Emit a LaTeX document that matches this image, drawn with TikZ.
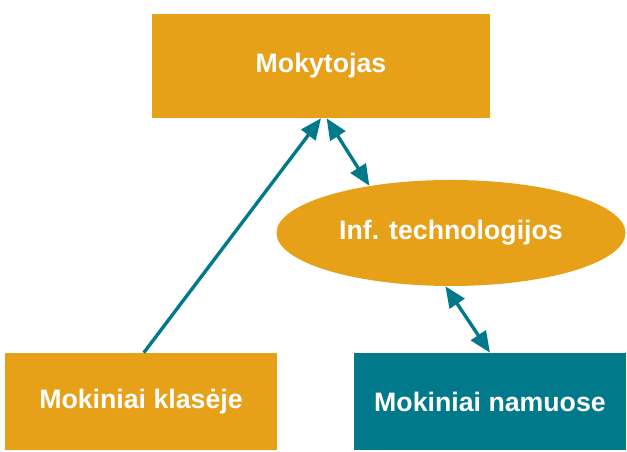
\documentclass[tikz,border=0pt]{standalone}
\usepackage{fontspec}
\setmainfont{Liberation Sans}
\usetikzlibrary{arrows.meta,shapes.geometric,positioning}
\definecolor{boxorange}{HTML}{E6A118}
\definecolor{boxteal}{HTML}{00798A}

\begin{document}
\begin{tikzpicture}[
  block/.style={rectangle, fill=boxorange, text=white, inner sep=0pt, font=\bfseries\fontsize{19}{22}\selectfont},
  oval/.style={ellipse, fill=boxorange, text=white, inner sep=0pt, font=\bfseries\fontsize{19}{22}\selectfont},
  link/.style={draw=boxteal, line width=2.4pt},
  >={Triangle[length=15pt, width=12.5pt]}
]
  \useasboundingbox (0,0) rectangle (15.675,11.3);
  \node[block, minimum width=8.45cm, minimum height=2.6cm] (mok) at (8.025, 9.65) {Mokytojas};
  \node[oval, minimum width=8.725cm, minimum height=2.65cm] (it) at (11.275, 5.475) {Inf. technologijos};
  \node[block, minimum width=6.8cm, minimum height=2.425cm] (klase) at (3.525, 1.2625) {Mokiniai klasėje};
  \node[block, fill=boxteal, minimum width=6.8cm, minimum height=2.425cm] (namie) at (12.25, 1.2625) {Mokiniai namuose};
  % Connections
  \draw[link, ->, boxteal] ([xshift=2pt]klase.north) -- (mok.south);
  \draw[link, <->, boxteal] ([xshift=4pt]mok.south) -- (it.150);
  \draw[link, <->, boxteal] (it.264) -- (namie.north);
\end{tikzpicture}
\end{document}
